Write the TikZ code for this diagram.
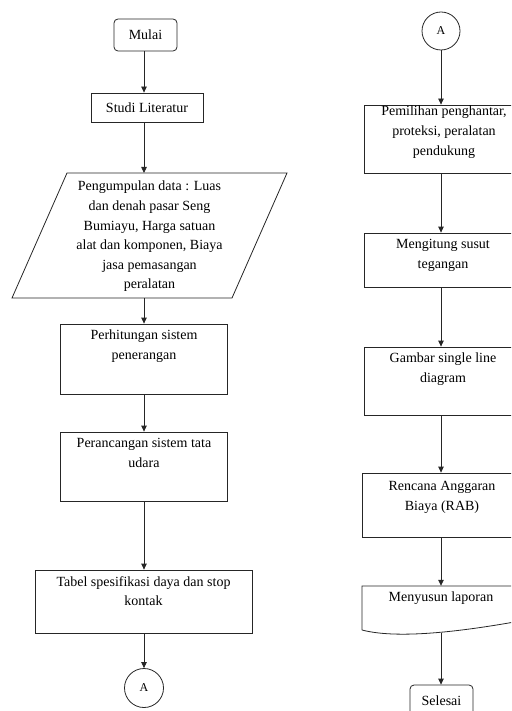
\documentclass[tikz,border=0pt]{standalone}
\usepackage{fontspec}
\setmainfont{Liberation Serif}
\usetikzlibrary{arrows.meta}
\begin{document}
\begin{tikzpicture}[x=1pt,y=-1pt,
  ln/.style={line width=0.8pt, draw=black!85},
  box/.style={ln, rectangle, inner sep=0pt, minimum width=#1},
  box/.default=167pt,
  term/.style={ln, rectangle, rounded corners=4pt, inner sep=0pt, minimum width=63pt, minimum height=32pt, font=\fontsize{14}{20}\selectfont},
  conn/.style={ln, circle, inner sep=0pt, minimum size=39pt, font=\fontsize{12}{14}\selectfont},
  txt/.style={align=center, font=\fontsize{14}{19.6}\selectfont, inner sep=0pt, anchor=north},
  arr/.style={ln, -{Triangle[length=6pt,width=5.5pt]}}]
\useasboundingbox (0,0) rectangle (511,711);
\clip (0,0) rectangle (511,711);

% ---------- left column ----------
\node[term] (start) at (145.5,35) {Mulai};
\node[box=112pt, minimum height=29pt, font=\fontsize{14}{20}\selectfont] (studi) at (147,107.5) {Studi Literatur};

\draw[ln] (67,173) -- (287,173) -- (232,298) -- (12,298) -- cycle;
\coordinate (pt) at (144,173);
\coordinate (pb) at (144,298);
\node[txt] (ptxt) at (149.5,181) {Pengumpulan data : Luas\\dan denah pasar Seng\\Bumiayu, Harga satuan\\alat dan komponen, Biaya\\jasa pemasangan\\peralatan};

\node[box, minimum height=70pt] (hit) at (144,359) {};
\node[txt] (thit) at (144,330) {Perhitungan sistem\\penerangan};

\node[box, minimum height=69pt] (ran) at (144,466.5) {};
\node[txt] (tran) at (144,438) {Perancangan sistem tata\\udara};

\node[box=217pt, minimum height=63pt] (tab) at (143.5,601.5) {};
\node[txt] (ttab) at (143.5,576) {Tabel spesifikasi daya dan stop\\kontak};

\node[conn] (a1) at (144,688) {A};

\draw[arr] (start.south -| 144,0) -- (studi.north -| 144,0);
\draw[arr] (studi.south -| 144,0) -- (pt);
\draw[arr] (pb) -- (hit.north);
\draw[arr] (hit.south) -- (ran.north);
\draw[arr] (ran.south) -- (tab.north -| 144,0);
\draw[arr] (tab.south -| 144,0) -- (a1.north);

% ---------- right column ----------
\node[conn, minimum size=38pt] (a2) at (441,31) {A};

\node[box=156pt, minimum height=68pt] (pem) at (442,139) {};
\node[txt] (tpem) at (444,106) {Pemilihan penghantar,\\proteksi, peralatan\\pendukung};

\node[box=156pt, minimum height=54pt] (sus) at (442,260) {};
\node[txt] (tsus) at (443,239) {Mengitung susut\\tegangan};

\node[box=156pt, minimum height=68pt] (sld) at (442,381) {};
\node[txt] (tsld) at (443,353) {Gambar single line\\diagram};

\node[box=158pt, minimum height=64pt] (rab) at (441,505) {};
\node[txt] (trab) at (442,481) {Rencana Anggaran\\Biaya (RAB)};

\node[inner sep=0pt, minimum width=158pt, minimum height=47pt] (lap) at (441,609.5) {};
\draw[ln] (362,630) -- (362,586) -- (520,586) -- (520,621)
  .. controls (470,630) and (400,640) .. (362,630);
\node[txt] (tlap) at (441,592) {Menyusun laporan};

\node[term] (end) at (441.5,701) {Selesai};

\draw[arr] (a2.south) -- (pem.north -| a2.south);
\draw[arr] (pem.south -| a2.south) -- (sus.north -| a2.south);
\draw[arr] (sus.south -| a2.south) -- (sld.north -| a2.south);
\draw[arr] (sld.south -| a2.south) -- (rab.north -| a2.south);
\draw[arr] (rab.south -| a2.south) -- (lap.north -| a2.south);
\draw[arr] (lap.south -| a2.south) -- (end.north -| a2.south);
\end{tikzpicture}
\end{document}
